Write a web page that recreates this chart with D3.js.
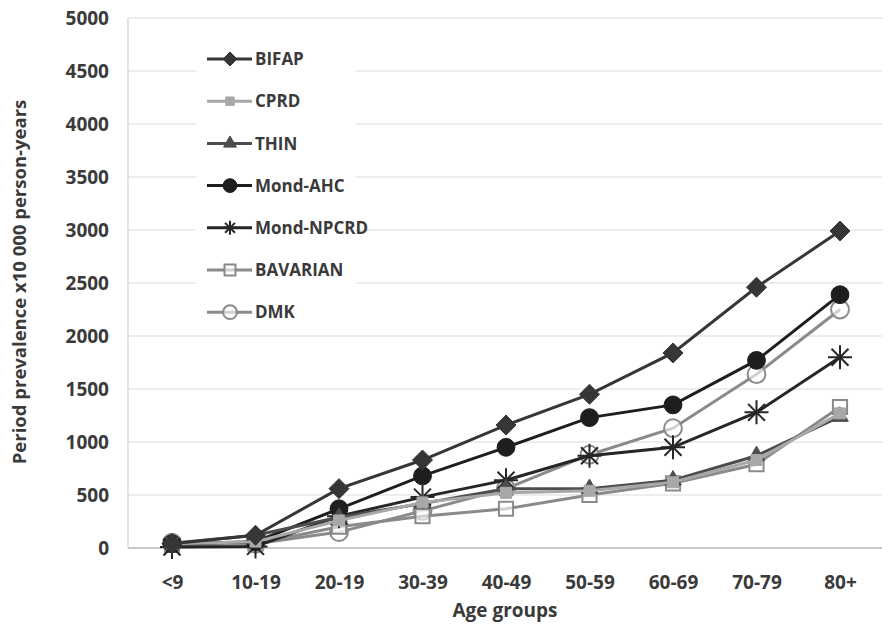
<!DOCTYPE html>
<html>
<head>
<meta charset="utf-8">
<script src="https://cdn.jsdelivr.net/npm/d3@7"></script>
<style>
  body { margin: 0; background: #fff; }
  svg text { font-family: "Open Sans", Lato, sans-serif; fill: #3a3a3a; font-weight: 700; }
</style>
</head>
<body>
<svg class="chart" width="888" height="626"></svg>
<script>
const ageGroups = ['<9', '10-19', '20-19', '30-39', '40-49', '50-59', '60-69', '70-79', '80+']
const yTicks = [0, 500, 1000, 1500, 2000, 2500, 3000, 3500, 4000, 4500, 5000]

const bifap     = [40, 120, 560, 830, 1160, 1450, 1840, 2460, 2990]
const cprd      = [40, 60, 260, 430, 520, 540, 620, 830, 1270]
const thin      = [45, 120, 290, 420, 560, 560, 640, 870, 1240]
const mondAhc   = [40, 60, 370, 680, 950, 1230, 1350, 1770, 2390]
const mondNpcrd = [10, 15, 300, 480, 640, 870, 950, 1280, 1800]
const bavarian  = [30, 40, 200, 300, 370, 500, 610, 790, 1330]
const dmk       = [50, 40, 150, 350, 560, 880, 1130, 1640, 2250]

const series = [
    {name: 'BIFAP', values: bifap, color: '#363636', symbol: 'diamond', size: 10, fill: true},
    {name: 'CPRD', values: cprd, color: '#a8a8a8', symbol: d3.symbolSquare, size: 120, fill: true},
    {name: 'THIN', values: thin, color: '#4d4d4d', symbol: d3.symbolTriangle, size: 120, fill: true},
    {name: 'Mond-AHC', values: mondAhc, color: '#1e1e1e', symbol: d3.symbolCircle, size: 250, fill: true},
    {name: 'Mond-NPCRD', values: mondNpcrd, color: '#262626', symbol: 'star', size: 12, fill: false},
    {name: 'BAVARIAN', values: bavarian, color: '#8a8a8a', symbol: d3.symbolSquare, size: 200, fill: false},
    {name: 'DMK', values: dmk, color: '#8a8a8a', symbol: d3.symbolCircle, size: 250, fill: false},
]

let svg = d3.select("svg.chart")
let x = d3.scalePoint().domain(ageGroups).range([172, 840])
let y = d3.scaleLinear().domain([0, 5000]).range([548, 18])

// gridlines
svg.append("g")
  .selectAll("line")
  .data(yTicks)
  .enter().append("line")
    .attr("x1", 128).attr("x2", 882)
    .attr("y1", d => y(d)).attr("y2", d => y(d))
    .attr("stroke", d => d === 0 ? "#c8c8c8" : "#dcdcdc")
    .attr("stroke-width", d => d === 0 ? 2 : 1.2)

svg.append("line")
    .attr("x1", 128).attr("x2", 128)
    .attr("y1", y(5000)).attr("y2", y(0))
    .attr("stroke", "#d0d0d0").attr("stroke-width", 1.2)

// y axis tick labels
let yAxis = svg.append("g")
    .attr("transform", "translate(109,0)")
    .call(d3.axisLeft(y).tickValues(yTicks).tickFormat(d3.format("d")).tickSize(0).tickPadding(0))
yAxis.select(".domain").remove()
yAxis.selectAll("text")
    .attr("font-size", 19).attr("fill", "#3a3a3a")
    .style("font-family", '"Open Sans", sans-serif').style("font-weight", 700)

// x axis tick labels
let xAxis = svg.append("g")
    .attr("transform", "translate(0,575)")
    .call(d3.axisBottom(x).tickSize(0).tickPadding(0))
xAxis.select(".domain").remove()
xAxis.selectAll("text")
    .attr("font-size", 19).attr("fill", "#3a3a3a")
    .style("font-family", '"Open Sans", sans-serif').style("font-weight", 700)

svg.append("text")
    .attr("x", 505).attr("y", 617)
    .attr("text-anchor", "middle")
    .attr("font-size", 19)
    .text("Age groups")

svg.append("text")
    .attr("transform", "translate(26,282) rotate(-90)")
    .attr("text-anchor", "middle")
    .attr("font-size", 18.5)
    .text("Period prevalence x10 000 person-years")

function starPath(r) {
  let p = ""
  for (let i = 0; i < 4; i++) {
    let a = i * Math.PI / 4
    let dx = r * Math.cos(a), dy = r * Math.sin(a)
    p += `M${-dx},${-dy}L${dx},${dy}`
  }
  return p
}

function markerPath(s) {
  if (s.symbol === 'star') return starPath(s.size)
  if (s.symbol === 'diamond') {
    let r = s.size
    return `M0,${-r}L${r},0L0,${r}L${-r},0Z`
  }
  return d3.symbol().type(s.symbol).size(s.size)()
}

function drawMarker(g, s) {
  g.append("path")
      .attr("d", markerPath(s))
      .attr("fill", s.fill ? s.color : "#fff")
      .attr("fill-opacity", s.fill ? 1 : 0.6)
      .attr("stroke", s.color)
      .attr("stroke-width", s.fill ? 1 : 2)
}

let line = d3.line()
    .x((d, i) => x(ageGroups[i]))
    .y(d => y(d))

// draw series, last first so BIFAP ends on top
let plot = svg.append("g")
series.slice().reverse().forEach(s => {
  plot.append("path")
      .attr("d", line(s.values))
      .attr("fill", "none")
      .attr("stroke", s.color)
      .attr("stroke-width", 3)
  s.values.forEach((v, i) => {
    let g = plot.append("g")
        .attr("transform", `translate(${x(ageGroups[i])},${y(v)})`)
    drawMarker(g, s)
  })
})

// legend
let legend = svg.append("g")
legend.append("rect")
    .attr("x", 196).attr("y", 40).attr("width", 160).attr("height", 290)
    .attr("fill", "#fff")

let item = legend.selectAll(".item")
  .data(series)
  .enter().append("g")
    .attr("transform", (d, i) => `translate(0,${59 + i * 42.2})`)

item.append("line")
    .attr("x1", 207).attr("x2", 252)
    .attr("stroke", d => d.color)
    .attr("stroke-width", 3)

item.each(function(d) {
  let g = d3.select(this).append("g").attr("transform", "translate(230,0)")
  let small = d.symbol === 'star' ? 7 : d.symbol === 'diamond' ? 7 : d.size * 0.6
  drawMarker(g, Object.assign({}, d, {size: small}))
})

item.append("text")
    .attr("x", 255).attr("dy", "0.36em")
    .attr("font-size", 17)
    .text(d => d.name)
</script>
</body>
</html>
